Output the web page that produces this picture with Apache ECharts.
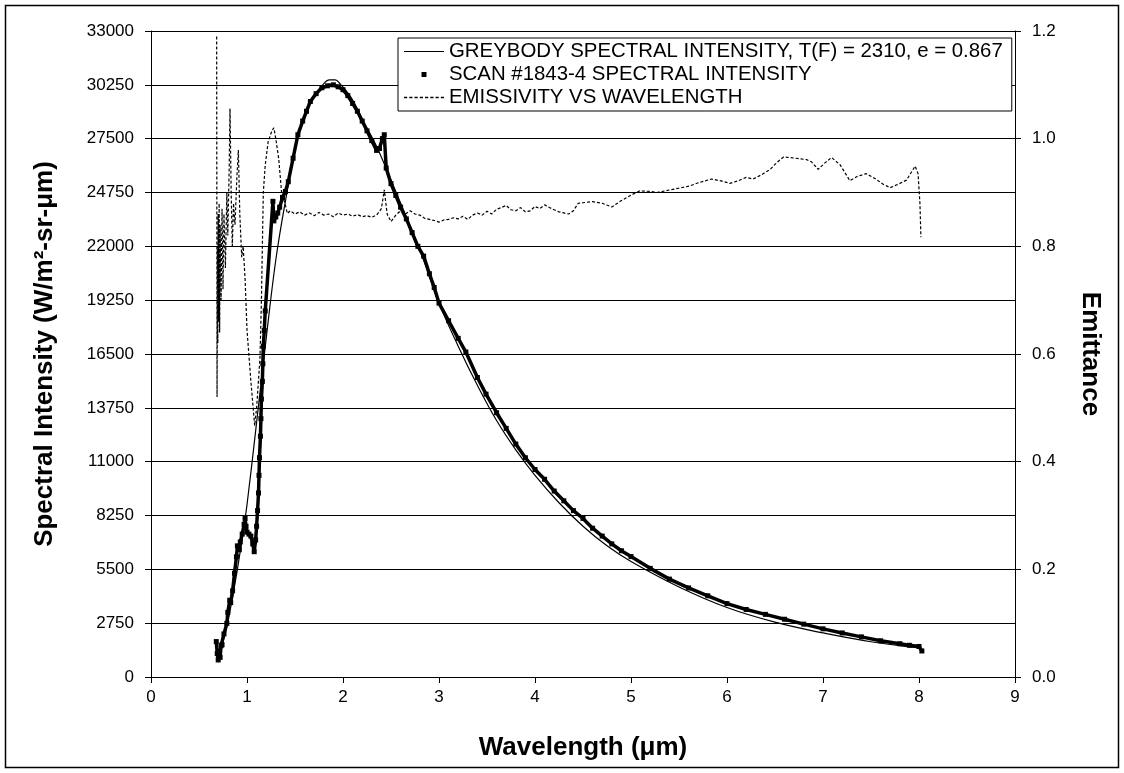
<!DOCTYPE html>
<html>
<head>
<meta charset="utf-8">
<script src="https://cdn.jsdelivr.net/npm/echarts@6/dist/echarts.min.js"></script>
<style>
  html, body { margin: 0; padding: 0; background: #fff; }
  #chart { width: 1124px; height: 773px; }
</style>
</head>
<body>
<div id="chart"></div>
<script>
// greybody curve
var greyWl  = [0.70, 0.75, 0.80, 0.85, 0.90, 0.95, 1.00, 1.10, 1.20, 1.30, 1.40, 1.52, 1.60, 1.69, 1.78, 1.86, 1.92, 1.97, 2.04, 2.11, 2.20, 2.32, 2.37, 2.49, 2.66, 2.84, 3.00, 3.20, 3.40, 3.60, 3.80, 4.00, 4.25, 4.50, 4.75, 5.00, 5.50, 6.00, 6.50, 7.00, 7.50, 8.00];
var greyVal = [900, 1800, 2800, 4100, 5500, 7100, 8800, 13000, 17300, 21300, 24300, 27400, 28700, 29600, 30200, 30500, 30500, 30300, 29900, 29400, 28500, 27400, 26900, 25500, 23500, 21300, 19100, 16900, 14900, 13100, 11600, 10300, 8900, 7700, 6700, 5900, 4600, 3550, 2800, 2250, 1800, 1480];

// scan #1843-4 measured points
var scanWl  = [0.68, 0.69, 0.70, 0.71, 0.72, 0.73, 0.74, 0.76, 0.79, 0.80, 0.82, 0.83, 0.85, 0.87, 0.89, 0.90, 0.92, 0.93, 0.95, 0.97, 0.98, 0.99, 1.00, 1.02, 1.04, 1.06, 1.075, 1.09, 1.10, 1.11, 1.12, 1.125, 1.13, 1.14, 1.145, 1.15, 1.16, 1.165, 1.17, 1.18, 1.19, 1.27, 1.28, 1.30, 1.32, 1.34, 1.37, 1.40, 1.43, 1.48, 1.53, 1.58, 1.62, 1.66, 1.72, 1.78, 1.84, 1.90, 1.95, 2.00, 2.05, 2.10, 2.15, 2.20, 2.25, 2.30, 2.35, 2.38, 2.41, 2.43, 2.45, 2.50, 2.55, 2.60, 2.66, 2.72, 2.78, 2.84, 2.90, 2.95, 3.00, 3.10, 3.20, 3.28, 3.40, 3.49, 3.60, 3.70, 3.80, 3.90, 4.00, 4.10, 4.20, 4.30, 4.40, 4.50, 4.60, 4.70, 4.80, 4.90, 5.00, 5.20, 5.40, 5.60, 5.80, 6.00, 6.20, 6.40, 6.60, 6.80, 7.00, 7.20, 7.40, 7.60, 7.80, 7.90, 8.00, 8.03];
var scanVal = [1810, 1200, 870, 1340, 1000, 1600, 1650, 2200, 2740, 3300, 3920, 3800, 4400, 5300, 6140, 6700, 6500, 6900, 7300, 7800, 8100, 7700, 7400, 7300, 7200, 6800, 6400, 7000, 7700, 8500, 9400, 10300, 11200, 12300, 13200, 14200, 15100, 16000, 16900, 17700, 18700, 24300, 23300, 23500, 23700, 24000, 24500, 24800, 25300, 26500, 27700, 28400, 28900, 29400, 29800, 30100, 30200, 30250, 30150, 30000, 29700, 29300, 28900, 28400, 27900, 27400, 26900, 27000, 27500, 27700, 26000, 25200, 24600, 24000, 23400, 22700, 22000, 21500, 20600, 19900, 19100, 18200, 17300, 16600, 15300, 14450, 13500, 12700, 11900, 11200, 10600, 10100, 9500, 9000, 8500, 8100, 7600, 7200, 6800, 6450, 6150, 5550, 5000, 4550, 4150, 3750, 3450, 3200, 2950, 2700, 2460, 2250, 2050, 1850, 1700, 1620, 1560, 1330];

// emissivity vs wavelength (right axis)
var emisWl  = [0.684, 0.688, 0.692, 0.696, 0.70, 0.705, 0.71, 0.715, 0.72, 0.73, 0.74, 0.75, 0.76, 0.775, 0.79, 0.80, 0.815, 0.823, 0.835, 0.847, 0.86, 0.875, 0.895, 0.91, 0.925, 0.945, 0.96, 0.98, 1.00, 1.04, 1.08, 1.10, 1.12, 1.135, 1.15, 1.17, 1.19, 1.22, 1.26, 1.28, 1.30, 1.33, 1.36, 1.40, 1.42, 1.45, 1.50, 1.55, 1.60, 1.65, 1.70, 1.75, 1.80, 1.85, 1.90, 1.95, 2.00, 2.05, 2.10, 2.15, 2.20, 2.25, 2.30, 2.35, 2.40, 2.43, 2.46, 2.50, 2.55, 2.60, 2.65, 2.70, 2.75, 2.80, 2.85, 2.90, 2.95, 3.00, 3.05, 3.10, 3.15, 3.20, 3.25, 3.30, 3.35, 3.40, 3.45, 3.50, 3.55, 3.60, 3.65, 3.70, 3.75, 3.80, 3.85, 3.90, 3.95, 4.00, 4.05, 4.10, 4.15, 4.20, 4.25, 4.30, 4.35, 4.40, 4.45, 4.50, 4.60, 4.70, 4.80, 4.90, 5.00, 5.09, 5.20, 5.27, 5.41, 5.50, 5.61, 5.70, 5.84, 5.95, 6.03, 6.12, 6.20, 6.27, 6.36, 6.45, 6.52, 6.59, 6.70, 6.83, 6.88, 6.95, 7.02, 7.09, 7.18, 7.28, 7.36, 7.45, 7.55, 7.63, 7.70, 7.78, 7.87, 7.96, 7.99, 8.01, 8.02];
var emisVal = [1.19, 0.52, 0.80, 0.62, 0.86, 0.66, 0.88, 0.64, 0.84, 0.70, 0.87, 0.72, 0.86, 0.76, 0.90, 0.82, 0.95, 1.056, 0.90, 0.80, 0.88, 0.84, 0.93, 0.979, 0.86, 0.78, 0.80, 0.74, 0.645, 0.55, 0.467, 0.50, 0.552, 0.593, 0.697, 0.90, 0.951, 0.994, 1.015, 1.02, 1.00, 0.963, 0.901, 0.877, 0.861, 0.866, 0.860, 0.864, 0.858, 0.862, 0.857, 0.863, 0.858, 0.860, 0.855, 0.862, 0.858, 0.860, 0.856, 0.859, 0.855, 0.857, 0.854, 0.858, 0.870, 0.905, 0.860, 0.846, 0.858, 0.866, 0.860, 0.866, 0.860, 0.858, 0.852, 0.850, 0.848, 0.845, 0.849, 0.850, 0.853, 0.851, 0.856, 0.850, 0.858, 0.862, 0.858, 0.865, 0.860, 0.869, 0.872, 0.876, 0.868, 0.866, 0.872, 0.864, 0.866, 0.874, 0.870, 0.877, 0.872, 0.868, 0.864, 0.862, 0.860, 0.866, 0.880, 0.881, 0.883, 0.880, 0.873, 0.885, 0.895, 0.903, 0.902, 0.900, 0.905, 0.908, 0.912, 0.918, 0.925, 0.921, 0.917, 0.922, 0.928, 0.925, 0.933, 0.943, 0.956, 0.966, 0.964, 0.961, 0.957, 0.943, 0.955, 0.965, 0.951, 0.922, 0.930, 0.935, 0.925, 0.915, 0.909, 0.915, 0.923, 0.949, 0.935, 0.879, 0.817];

var seriesNames = [
  'GREYBODY SPECTRAL INTENSITY, T(F) = 2310, e = 0.867',
  'SCAN #1843-4 SPECTRAL INTENSITY',
  'EMISSIVITY VS WAVELENGTH'
];

function pairs(xs, ys) {
  var out = [];
  for (var i = 0; i < xs.length; i++) out.push([xs[i], ys[i]]);
  return out;
}

// legend icons (40 x 12 box)
var solidIcon = 'path://M0,5.4h40v1.2h-40z';
var dotIcon = 'path://';
for (var d = 0; d < 40; d += 5) dotIcon += 'M' + d + ',5.4h3v1.2h-3z ';
var squareIcon = 'path://M0,0h0.01v0.01h-0.01z M17.5,3.5h5v5h-5z M39.99,11.99h0.01v0.01h-0.01z';

var font = "'Liberation Sans', Arial, sans-serif";
var chart = echarts.init(document.getElementById('chart'), null, { renderer: 'canvas' });

chart.setOption({
  backgroundColor: '#fff',
  animation: false,
  textStyle: { fontFamily: font, color: '#000' },
  graphic: [{
    type: 'rect',
    shape: { x: 5.5, y: 5.5, width: 1113, height: 762 },
    style: { fill: 'none', stroke: '#000', lineWidth: 1.5 },
    silent: true
  }],
  grid: { left: 151, right: 109, top: 31, bottom: 96 },
  legend: {
    orient: 'vertical',
    left: 398,
    top: 38,
    padding: [2, 9, 2, 6],
    itemGap: 0,
    itemWidth: 40,
    itemHeight: 12,
    backgroundColor: '#fff',
    borderColor: '#000',
    borderWidth: 1,
    borderRadius: 0,
    textStyle: { fontFamily: font, fontSize: 20.4, lineHeight: 23, color: '#000' },
    data: [
      { name: seriesNames[0], icon: solidIcon, itemStyle: { color: '#000' } },
      { name: seriesNames[1], icon: squareIcon, itemStyle: { color: '#000' } },
      { name: seriesNames[2], icon: dotIcon, itemStyle: { color: '#000' } }
    ]
  },
  xAxis: {
    type: 'value',
    min: 0, max: 9, interval: 1,
    name: 'Wavelength (μm)',
    nameLocation: 'middle',
    nameGap: 58,
    nameTextStyle: { fontSize: 26, fontWeight: 'bold', color: '#000', fontFamily: font },
    axisLine: { onZero: false, lineStyle: { color: '#000', width: 1 } },
    axisTick: { length: 6, lineStyle: { color: '#000' } },
    axisLabel: { fontSize: 17, color: '#000', margin: 12, fontFamily: font },
    splitLine: { show: false }
  },
  yAxis: [{
    type: 'value',
    min: 0, max: 33000, interval: 2750,
    name: 'Spectral Intensity (W/m²-sr-μm)',
    nameLocation: 'middle',
    nameGap: 93,
    nameTextStyle: { fontSize: 26, fontWeight: 'bold', color: '#000', fontFamily: font },
    axisLine: { show: true, lineStyle: { color: '#000', width: 1 } },
    axisTick: { show: true, length: 6, lineStyle: { color: '#000' } },
    axisLabel: { fontSize: 17, color: '#000', margin: 17, fontFamily: font,
      formatter: function (v) { return String(v); } },
    splitLine: { show: true, lineStyle: { color: '#000', width: 1 } }
  }, {
    type: 'value',
    position: 'right',
    min: 0, max: 1.2, interval: 0.2,
    name: 'Emittance',
    nameLocation: 'middle',
    nameGap: 62,
    nameRotate: -90,
    nameTextStyle: { fontSize: 26, fontWeight: 'bold', color: '#000', fontFamily: font },
    axisLine: { show: true, lineStyle: { color: '#000', width: 1 } },
    axisTick: { show: true, length: 6, lineStyle: { color: '#000' } },
    axisLabel: { fontSize: 17, color: '#000', margin: 17, fontFamily: font,
      formatter: function (v) { return v.toFixed(1); } },
    splitLine: { show: false }
  }],
  series: [{
    name: seriesNames[2],
    type: 'line',
    yAxisIndex: 1,
    data: pairs(emisWl, emisVal),
    symbol: 'none',
    itemStyle: { color: '#000' },
    lineStyle: { color: '#000', width: 1.2, type: [3, 2] },
    z: 2
  }, {
    name: seriesNames[1],
    type: 'line',
    data: pairs(scanWl, scanVal),
    symbol: 'rect',
    symbolSize: 5,
    showAllSymbol: true,
    itemStyle: { color: '#000' },
    lineStyle: { color: '#000', width: 3.5 },
    z: 3
  }, {
    name: seriesNames[0],
    type: 'line',
    data: pairs(greyWl, greyVal),
    symbol: 'none',
    smooth: 0.4,
    itemStyle: { color: '#000' },
    lineStyle: { color: '#000', width: 1.2 },
    z: 4
  }]
});
</script>
</body>
</html>
